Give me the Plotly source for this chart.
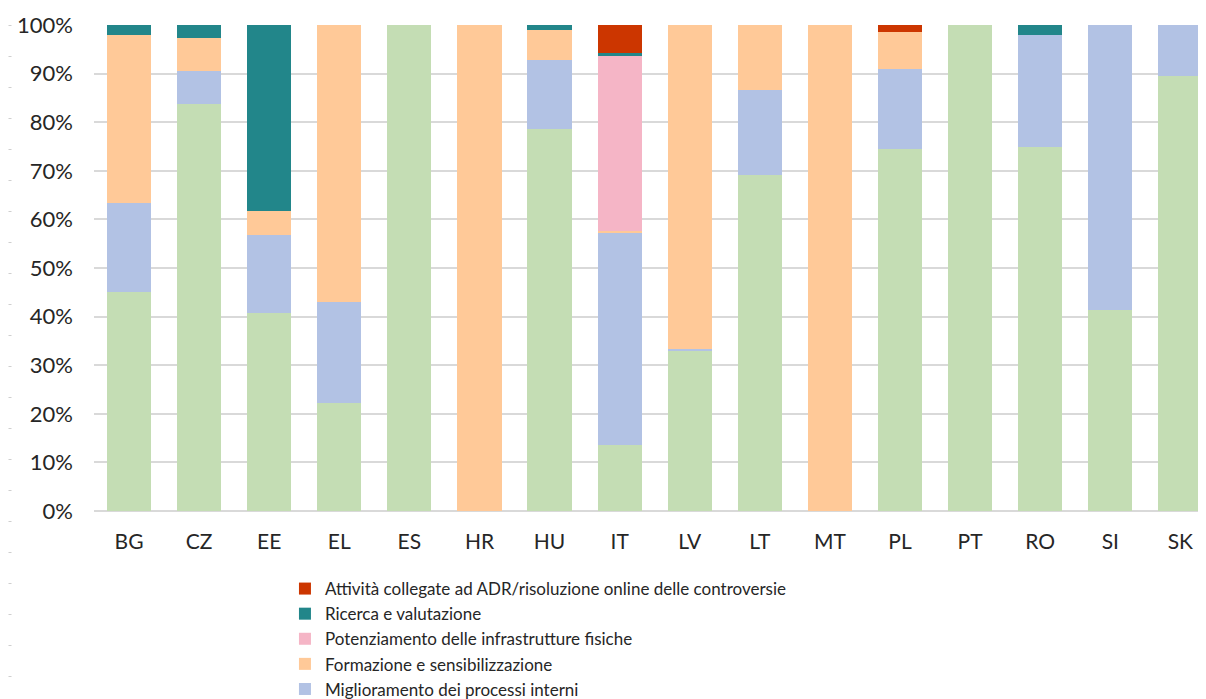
import plotly.graph_objects as go

countries = ["BG", "CZ", "EE", "EL", "ES", "HR", "HU", "IT", "LV", "LT", "MT", "PL", "PT", "RO", "SI", "SK"]

# shares (fraction of 1) per category, bottom to top
verde = [0.450, 0.838, 0.407, 0.222, 1.000, 0.000, 0.785, 0.136, 0.330, 0.691, 0.000, 0.745, 1.000, 0.748, 0.414, 0.896]
miglioramento = [0.184, 0.067, 0.160, 0.208, 0.000, 0.000, 0.144, 0.438, 0.004, 0.175, 0.000, 0.164, 0.000, 0.231, 0.586, 0.104]
formazione = [0.345, 0.069, 0.050, 0.570, 0.000, 1.000, 0.060, 0.003, 0.666, 0.134, 1.000, 0.077, 0.000, 0.000, 0.000, 0.000]
infrastrutture = [0.000, 0.000, 0.000, 0.000, 0.000, 0.000, 0.000, 0.359, 0.000, 0.000, 0.000, 0.000, 0.000, 0.000, 0.000, 0.000]
ricerca = [0.021, 0.026, 0.383, 0.000, 0.000, 0.000, 0.011, 0.006, 0.000, 0.000, 0.000, 0.000, 0.000, 0.021, 0.000, 0.000]
adr = [0.000, 0.000, 0.000, 0.000, 0.000, 0.000, 0.000, 0.058, 0.000, 0.000, 0.000, 0.014, 0.000, 0.000, 0.000, 0.000]

series = [
    ("", verde, "#C4DDB4", False),
    ("Miglioramento dei processi interni", miglioramento, "#B2C2E4", True),
    ("Formazione e sensibilizzazione", formazione, "#FFC998", True),
    ("Potenziamento delle infrastrutture fisiche", infrastrutture, "#F5B5C6", True),
    ("Ricerca e valutazione", ricerca, "#22868A", True),
    ("Attività collegate ad ADR/risoluzione online delle controversie", adr, "#CC3600", True),
]

FONT = "Lato"
TXT = "#262626"

fig = go.Figure()
for name, vals, col, show in series:
    fig.add_trace(go.Bar(
        x=countries, y=vals, name=name, marker_color=col,
        marker_line_width=0, showlegend=show,
    ))

# faint dotted page border on the far left
fig.add_shape(
    type="line", xref="paper", yref="paper",
    x0=-0.075, x1=-0.075, y0=1.0, y1=-1.4,
    line=dict(color="#CFCFCF", width=3, dash="1px,30px"),
)

fig.update_layout(
    width=1206, height=699,
    barmode="stack", bargap=0.37,
    paper_bgcolor="white", plot_bgcolor="white",
    margin=dict(l=86, r=0, t=17, b=196, autoexpand=False),
    font=dict(family=FONT, color=TXT, size=19),
    showlegend=True,
    legend=dict(
        orientation="v", traceorder="reversed",
        x=0.1705, xanchor="left", y=-0.1235, yanchor="top",
        font=dict(family=FONT, size=17, color=TXT),
        itemwidth=30, tracegroupgap=0,
        bgcolor="rgba(0,0,0,0)",
    ),
)
fig.update_xaxes(
    range=[-0.5, 15.48], showgrid=False, showline=False, ticks="",
    tickfont=dict(family=FONT, size=21, color=TXT), ticklabelstandoff=16,
)
fig.update_yaxes(
    range=[0, 1], dtick=0.1, tickformat=".0%",
    showgrid=True, gridcolor="#D9D9D9", gridwidth=1.5,
    zeroline=True, zerolinecolor="#D9D9D9", zerolinewidth=1.5,
    showline=False, ticks="",
    tickfont=dict(family=FONT, size=22, color=TXT), ticklabelstandoff=20,
)

fig.write_html("out.html")
